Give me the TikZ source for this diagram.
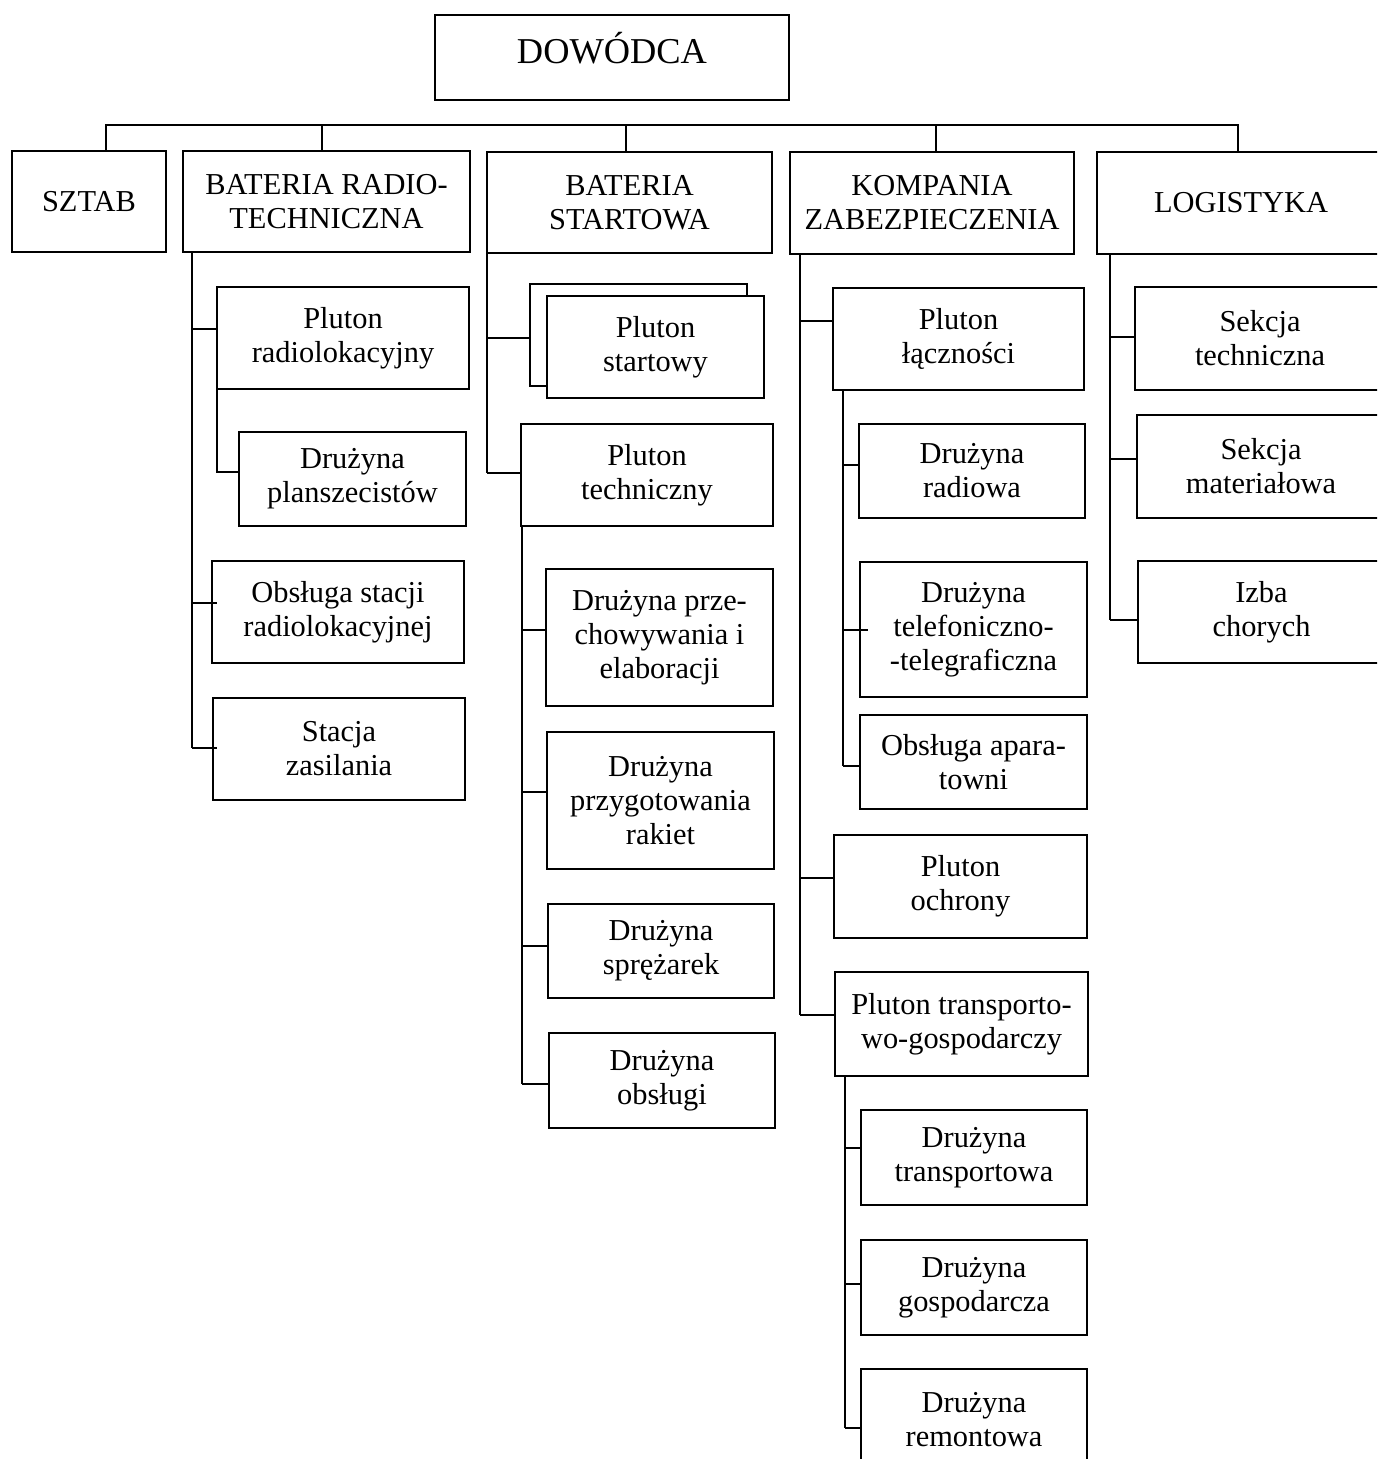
\documentclass[tikz,border=0pt]{standalone}
\usepackage{fontspec}
\setmainfont{Liberation Serif}
\begin{document}
\begin{tikzpicture}[x=0.5pt,y=-0.5pt,
  box/.style={draw, line width=1.4pt, fill=white, inner sep=2pt, outer sep=0pt,
              align=center, font=\fontsize{15.2}{17}\selectfont},
  conn/.style={line width=1.4pt}]
% unit: one step = one pixel of a 1377 x 1459 sheet
\useasboundingbox (0,0) rectangle (1377,1459);
\clip (0,0) rectangle (1377,1459);

% box from its corners: name, x1, y1, x2, y2, text
\newcommand\orgbox[6]{%
  \pgfmathsetmacro\obw{0.5*(#4-#2)}%
  \pgfmathsetmacro\obh{0.5*(#5-#3)}%
  \node[box, minimum width=\obw pt, minimum height=\obh pt]
    (#1) at ({(#2+#4)/2},{(#3+#5)/2}) {#6};}

% commander
\orgbox{dow}{435}{15}{789}{100}{}
\node[font=\fontsize{18.2}{20}\selectfont] (dowt) at (612,48) {DOWÓDCA};

% first level
\orgbox{sztab}{12}{151}{166}{252}{SZTAB}
\orgbox{brt}{183}{151}{470}{252}{BATERIA RADIO-\\TECHNICZNA}
\orgbox{bs}{487}{152}{772}{253}{BATERIA\\STARTOWA}
\orgbox{kz}{790}{152}{1074}{254}{KOMPANIA\\ZABEZPIECZENIA}
\orgbox{log}{1097}{152}{1385}{254}{LOGISTYKA}

% radio-technical battery
\orgbox{prl}{217}{287}{469}{389}{Pluton\\radiolokacyjny}
\orgbox{dpl}{239}{432}{466}{526}{Drużyna\\planszecistów}
\orgbox{osr}{212}{561}{464}{663}{Obsługa stacji\\radiolokacyjnej}
\orgbox{stz}{213}{698}{465}{800}{Stacja\\zasilania}

% launch battery
\orgbox{pstb}{530}{284}{747}{386}{}
\orgbox{pst}{547}{296}{764}{398}{Pluton\\startowy}
\orgbox{pte}{521}{424}{773}{526}{Pluton\\techniczny}
\orgbox{dpe}{546}{569}{773}{706}{Drużyna prze-\\chowywania i\\elaboracji}
\orgbox{dpr}{547}{732}{774}{869}{Drużyna\\przygotowania\\rakiet}
\orgbox{dsp}{548}{904}{774}{998}{Drużyna\\sprężarek}
\orgbox{dob}{549}{1033}{775}{1128}{Drużyna\\obsługi}

% support company
\orgbox{plc}{833}{288}{1084}{390}{Pluton\\łączności}
\orgbox{drd}{859}{424}{1085}{518}{Drużyna\\radiowa}
\orgbox{dtt}{860}{562}{1087}{697}{Drużyna\\telefoniczno-\\-telegraficzna}
\orgbox{oap}{860}{715}{1087}{809}{Obsługa apara-\\towni}
\orgbox{poc}{834}{835}{1087}{938}{Pluton\\ochrony}
\orgbox{ptg}{835}{972}{1088}{1076}{Pluton transporto-\\wo-gospodarczy}
\orgbox{dtr}{861}{1110}{1087}{1205}{Drużyna\\transportowa}
\orgbox{dgo}{861}{1240}{1087}{1335}{Drużyna\\gospodarcza}
\orgbox{drm}{861}{1369}{1087}{1470}{Drużyna\\remontowa}

% logistics
\orgbox{stc}{1135}{287}{1385}{390}{Sekcja\\techniczna}
\orgbox{smt}{1137}{415}{1385}{518}{Sekcja\\materiałowa}
\orgbox{izb}{1138}{561}{1385}{663}{Izba\\chorych}

% bus under the commander
\coordinate (busL) at (106,125);
\coordinate (busR) at (1238,125);
\coordinate (dB) at (322,125);
\coordinate (dS) at (626,125);
\coordinate (dK) at (936,125);
\draw[conn] (sztab.north -| busL) -- (busL) -- (busR) -- (log.north -| busR);
\draw[conn] (dB) -- (brt.north -| dB);
\draw[conn] (dS) -- (bs.north -| dS);
\draw[conn] (dK) -- (kz.north -| dK);

% spines
\coordinate (spB) at (192,0);
\coordinate (spS) at (487,0);
\coordinate (spT) at (522,0);
\coordinate (spK) at (800,0);
\coordinate (spL) at (843,0);
\coordinate (spG) at (845,0);
\coordinate (spO) at (1110,0);

\draw[conn] (brt.south -| spB) -- (spB |- 0,748);
\draw[conn] (bs.south -| spS) -- (spS |- 0,473);
\draw[conn] (pte.south -| spT) -- (spT |- 0,1084);
\draw[conn] (kz.south -| spK) -- (spK |- 0,1015);
\draw[conn] (plc.south -| spL) -- (spL |- 0,766);
\draw[conn] (ptg.south -| spG) -- (spG |- 0,1428);
\draw[conn] (log.south -| spO) -- (spO |- 0,620);

% branches
\draw[conn] (spB |- 0,329) -- (prl.west |- 0,329);
\draw[conn] (prl.south west) |- (dpl.west |- 0,472);
\draw[conn] (spB |- 0,603) -- (osr.west |- 0,603) -- ++(5,0);
\draw[conn] (spB |- 0,748) -- (stz.west |- 0,748) -- ++(4,0);

\draw[conn] (spS |- 0,338) -- (pstb.west |- 0,338);
\draw[conn] (spS |- 0,473) -- (pte.west |- 0,473);
\draw[conn] (spT |- 0,630) -- (dpe.west |- 0,630);
\draw[conn] (spT |- 0,792) -- (dpr.west |- 0,792);
\draw[conn] (spT |- 0,946) -- (dsp.west |- 0,946);
\draw[conn] (spT |- 0,1084) -- (dob.west |- 0,1084);

\draw[conn] (spK |- 0,321) -- (plc.west |- 0,321);
\draw[conn] (spK |- 0,878) -- (poc.west |- 0,878);
\draw[conn] (spK |- 0,1015) -- (ptg.west |- 0,1015);
\draw[conn] (spL |- 0,465) -- (drd.west |- 0,465);
\draw[conn] (spL |- 0,630) -- (dtt.west |- 0,630) -- ++(8,0);
\draw[conn] (spL |- 0,766) -- (oap.west |- 0,766);
\draw[conn] (spG |- 0,1148) -- (dtr.west |- 0,1148);
\draw[conn] (spG |- 0,1284) -- (dgo.west |- 0,1284);
\draw[conn] (spG |- 0,1428) -- (drm.west |- 0,1428);

\draw[conn] (spO |- 0,337) -- (stc.west |- 0,337);
\draw[conn] (spO |- 0,459) -- (smt.west |- 0,459);
\draw[conn] (spO |- 0,620) -- (izb.west |- 0,620);
\end{tikzpicture}
\end{document}
